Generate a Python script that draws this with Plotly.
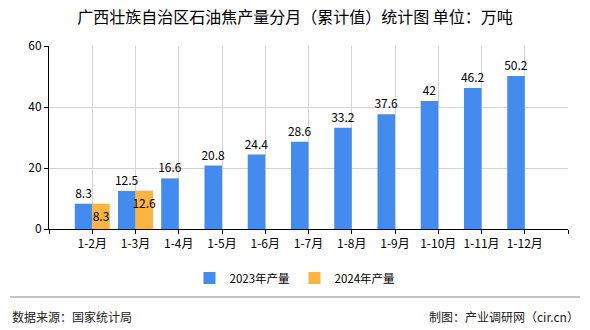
import plotly.graph_objects as go
import numpy as np

# ---- data ----
categories = ["1-2月", "1-3月", "1-4月", "1-5月", "1-6月", "1-7月",
              "1-8月", "1-9月", "1-10月", "1-11月", "1-12月"]
values_2023 = [8.3, 12.5, 16.6, 20.8, 24.4, 28.6, 33.2, 37.6, 42, 46.2, 50.2]
values_2024 = [8.3, 12.6, None, None, None, None, None, None, None, None, None]
series_names = ["2023年产量", "2024年产量"]
y_ticks = [0, 20, 40, 60]

title_text = "广西壮族自治区石油焦产量分月（累计值）统计图 单位：万吨"
source_text = "数据来源：国家统计局"
credit_text = "制图：产业调研网（cir.cn）"

# ---- layout helpers ----
W, H = 590, 330
L, R, T, B = 49, 22, 46, 101
PW, PH = W - L - R, H - T - B


def px_x(px):
    return (px - L) / PW


def px_y(py):
    return (H - B - py) / PH


FONT = "Noto Sans CJK SC, Noto Sans, sans-serif"
BLUE = "#438BEE"
ORANGE = "#FCB441"

x = np.arange(len(categories))


def fmt(v):
    return None if v is None else ("%g" % v)


fig = go.Figure()
fig.add_trace(go.Bar(
    x=x, y=values_2023, name=series_names[0], marker_color=BLUE,
    marker_line_width=0,
    text=[fmt(v) for v in values_2023], textposition="outside",
    textangle=0, constraintext="none", cliponaxis=False,
    textfont=dict(family=FONT, size=12, color="#000"),
    hoverinfo="skip",
))
fig.add_trace(go.Bar(
    x=x, y=values_2024, name=series_names[1], marker_color=ORANGE,
    marker_line_width=0,
    text=[fmt(v) for v in values_2024], textposition="inside",
    insidetextanchor="end", textangle=0, constraintext="none",
    cliponaxis=False,
    insidetextfont=dict(family=FONT, size=12, color="#000"),
    textfont=dict(family=FONT, size=12, color="#000"),
    hoverinfo="skip",
))

tickvals = list(range(-1, len(categories) + 1))
ticktext = [""] + categories + [""]

fig.update_layout(
    width=W, height=H,
    margin=dict(l=L, r=R, t=T, b=B, pad=0),
    paper_bgcolor="white", plot_bgcolor="white",
    barmode="group", bargap=0.19, bargroupgap=0,
    font=dict(family=FONT, size=12, color="#000"),
    title=dict(text=title_text, x=0.5, xref="container", xanchor="center",
               y=1 - 17 / H, yref="container", yanchor="middle",
               font=dict(family=FONT, size=16, color="#000")),
    legend=dict(orientation="h", x=0.5, xref="container", xanchor="center",
                y=1 - 278 / H, yref="container", yanchor="middle",
                font=dict(family=FONT, size=11.5, color="#000"),
                itemclick=False, traceorder="normal"),
    showlegend=True,
    xaxis=dict(range=[-1, len(categories)], tickmode="array",
               tickvals=tickvals, ticktext=ticktext,
               showgrid=True, gridcolor="#D3D3D3", gridwidth=1,
               showline=True, linecolor="#000", linewidth=1,
               ticks="outside", ticklen=4, tickcolor="#000",
               tickfont=dict(family=FONT, size=12, color="#000"),
               zeroline=False, fixedrange=True),
    yaxis=dict(range=[0, 60], tickmode="array", tickvals=y_ticks,
               showgrid=True, gridcolor="#D3D3D3", gridwidth=1,
               showline=True, linecolor="#000", linewidth=1,
               ticks="outside", ticklen=4, tickcolor="#000",
               tickfont=dict(family=FONT, size=12, color="#000"),
               zeroline=False, fixedrange=True),
)

# footer separator line
fig.add_shape(type="line", xref="paper", yref="paper",
              x0=px_x(10), x1=px_x(580), y0=px_y(297), y1=px_y(297),
              line=dict(color="#888", width=1))

fig.add_annotation(text=source_text, xref="paper", yref="paper",
                   x=px_x(10), y=px_y(316), xanchor="left", yanchor="middle",
                   showarrow=False, font=dict(family=FONT, size=12, color="#222"))
fig.add_annotation(text=credit_text, xref="paper", yref="paper",
                   x=px_x(581), y=px_y(316), xanchor="right", yanchor="middle",
                   showarrow=False, font=dict(family=FONT, size=12, color="#222"))

fig.write_html("out.html", config={"displayModeBar": False})
